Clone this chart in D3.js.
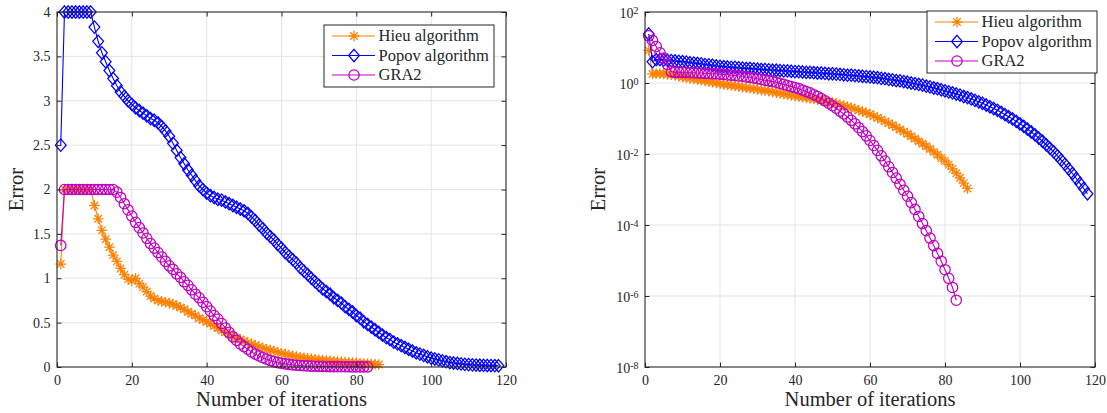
<!DOCTYPE html>
<html>
<head>
<meta charset="utf-8">
<script src="https://cdn.jsdelivr.net/npm/d3@7"></script>
<style>
  body { margin: 0; background: #fff; }
  svg { display: block; font-family: 'Liberation Serif', 'Times New Roman', serif; }
</style>
</head>
<body>
<div id="chart"></div>
<script>
// series info
const seriesNames = ['Hieu algorithm', 'Popov algorithm', 'GRA2'];
const seriesColors = ['#ff8000', '#0000ff', '#bf00bf'];
const seriesMarkers = ['asterisk', 'diamond', 'circle'];

// ticks
const xTicks = [0, 20, 40, 60, 80, 100, 120];
const linearYTicks = [0, 0.5, 1, 1.5, 2, 2.5, 3, 3.5, 4];
const logYExponents = [-8, -6, -4, -2, 0, 2];

// left panel (linear), value of iteration k is at index k-1
const hieuLinear = [1.16, 2, 2, 2, 2, 2, 2, 2, 2,
  1.82, 1.67, 1.54, 1.44, 1.35, 1.26, 1.19, 1.11, 1.04, 0.99,
  0.97, 1.00, 0.94, 0.90, 0.85, 0.80, 0.77, 0.75, 0.74, 0.73,
  0.72, 0.71, 0.69, 0.67, 0.65, 0.62, 0.60, 0.58, 0.55, 0.53,
  0.51, 0.49, 0.46, 0.44, 0.41, 0.39, 0.37, 0.35, 0.33, 0.31,
  0.29, 0.275, 0.26, 0.245, 0.23, 0.215, 0.20, 0.19, 0.18, 0.165,
  0.155, 0.145, 0.135, 0.125, 0.117, 0.11, 0.103, 0.097, 0.091, 0.086,
  0.081, 0.077, 0.073, 0.069, 0.065, 0.061, 0.058, 0.055, 0.052, 0.049,
  0.046, 0.043, 0.040, 0.037, 0.034, 0.031, 0.028];
const popovLinear = [2.5, 4, 4, 4, 4, 4, 4, 4, 4,
  3.83, 3.67, 3.54, 3.44, 3.34, 3.25, 3.17, 3.10, 3.05, 3.00,
  2.96, 2.92, 2.89, 2.86, 2.83, 2.80, 2.78, 2.75, 2.71, 2.66,
  2.60, 2.52, 2.44, 2.36, 2.29, 2.22, 2.16, 2.10, 2.04, 2.00,
  1.96, 1.93, 1.91, 1.89, 1.88, 1.86, 1.84, 1.82, 1.80, 1.78,
  1.76, 1.73, 1.69, 1.65, 1.60, 1.56, 1.51, 1.47, 1.43, 1.38,
  1.34, 1.29, 1.25, 1.21, 1.17, 1.12, 1.08, 1.04, 1.00, 0.96,
  0.92, 0.88, 0.85, 0.82, 0.78, 0.75, 0.72, 0.68, 0.65, 0.62,
  0.58, 0.55, 0.51, 0.48, 0.45, 0.42, 0.39, 0.36, 0.33, 0.31,
  0.28, 0.26, 0.24, 0.22, 0.20, 0.18, 0.16, 0.145, 0.13, 0.115,
  0.10, 0.09, 0.08, 0.07, 0.06, 0.05, 0.045, 0.04, 0.035, 0.03,
  0.027, 0.024, 0.022, 0.02, 0.018, 0.017, 0.016, 0.015, 0.014];
const gra2Linear = [1.37, 2, 2, 2, 2, 2, 2, 2, 2, 2, 2, 2, 2, 2, 2,
  1.97, 1.91, 1.84, 1.77, 1.70, 1.63, 1.57, 1.51, 1.45, 1.39,
  1.34, 1.29, 1.24, 1.19, 1.14, 1.10, 1.05, 1.01, 0.96, 0.92,
  0.87, 0.82, 0.78, 0.73, 0.68, 0.63, 0.58, 0.54, 0.49, 0.44,
  0.39, 0.34, 0.30, 0.26, 0.23, 0.20, 0.17, 0.145, 0.125, 0.105,
  0.088, 0.073, 0.06, 0.05, 0.042, 0.035, 0.029, 0.024, 0.02, 0.017,
  0.014, 0.012, 0.010, 0.0085, 0.0072, 0.0062, 0.0054, 0.0047, 0.0041, 0.0036,
  0.0032, 0.0028, 0.0025, 0.0022, 0.0019, 0.0017, 0.0015, 0.0013];

// right panel (log scale)
const hieuLog = [8.3, 1.8, 1.85, 1.85, 1.8, 1.75, 1.7, 1.65, 1.55, 1.48,
  1.41, 1.35, 1.29, 1.26, 1.20, 1.15, 1.10, 1.05, 1.00, 0.955,
  0.912, 0.891, 0.851, 0.832, 0.794, 0.759, 0.741, 0.708, 0.692, 0.661,
  0.631, 0.617, 0.589, 0.562, 0.537, 0.513, 0.490, 0.468, 0.447, 0.427,
  0.417, 0.398, 0.380, 0.372, 0.355, 0.339, 0.324, 0.309, 0.295, 0.282,
  0.263, 0.245, 0.229, 0.214, 0.200, 0.186, 0.170, 0.158, 0.145, 0.132,
  0.117, 0.105, 0.0933, 0.0832, 0.0741, 0.0646, 0.0562, 0.0490, 0.0427, 0.0372,
  0.0316, 0.0269, 0.0229, 0.0195, 0.0166, 0.0138, 0.0115, 0.00955, 0.00776, 0.00631,
  0.00501, 0.0038, 0.00288, 0.00214, 0.00151, 0.00107];
const popovLog = [24, 3.98, 4.57, 4.57, 4.47, 4.37, 4.27, 4.17, 4.07, 3.98,
  3.89, 3.72, 3.63, 3.55, 3.47, 3.31, 3.24, 3.16, 3.02, 2.95,
  2.88, 2.82, 2.75, 2.75, 2.69, 2.63, 2.57, 2.57, 2.51, 2.45,
  2.40, 2.40, 2.34, 2.29, 2.29, 2.24, 2.19, 2.19, 2.14, 2.09,
  2.09, 2.04, 2.00, 2.00, 1.95, 1.91, 1.91, 1.86, 1.82, 1.82,
  1.78, 1.74, 1.70, 1.66, 1.66, 1.62, 1.58, 1.55, 1.51, 1.48,
  1.45, 1.41, 1.35, 1.32, 1.26, 1.23, 1.17, 1.15, 1.10, 1.05,
  1.00, 0.955, 0.912, 0.871, 0.813, 0.776, 0.724, 0.692, 0.646, 0.603,
  0.562, 0.525, 0.490, 0.457, 0.417, 0.389, 0.355, 0.324, 0.295, 0.269,
  0.240, 0.214, 0.191, 0.170, 0.148, 0.129, 0.112, 0.0977, 0.0832, 0.0708,
  0.0603, 0.0501, 0.0417, 0.0347, 0.0282, 0.0229, 0.0182, 0.0145, 0.0115, 0.00891,
  0.00676, 0.00513, 0.0038, 0.00282, 0.00204, 0.00148, 0.00107, 0.000759];
const gra2Log = [21.4, 15.8, 10.7, 7.08, 5.01, 3.31, 2.09, 2.00, 2.00, 2.00,
  2.00, 1.95, 1.95, 1.91, 1.91, 1.86, 1.86, 1.82, 1.82, 1.78,
  1.74, 1.70, 1.66, 1.62, 1.58, 1.55, 1.48, 1.45, 1.38, 1.32,
  1.26, 1.20, 1.15, 1.10, 1.05, 0.977, 0.912, 0.851, 0.794, 0.741,
  0.692, 0.631, 0.575, 0.525, 0.468, 0.417, 0.363, 0.316, 0.269, 0.229,
  0.195, 0.162, 0.135, 0.110, 0.0891, 0.0708, 0.0550, 0.0427, 0.0324, 0.0240,
  0.0174, 0.0126, 0.00891, 0.00631, 0.00437, 0.00302, 0.00209, 0.00141, 0.000955, 0.000646,
  0.000427, 0.000275, 0.000174, 0.00011, 6.92e-5, 4.27e-5, 2.63e-5, 1.58e-5, 9.55e-6, 5.5e-6,
  3.16e-6, 1.74e-6, 7.6e-7];

// marker shapes centred at 0,0
function markerPath(type) {
  if (type === 'asterisk') {
    const r = 5.3, a = r * 0.707;
    return `M${-r},0L${r},0M0,${-r}L0,${r}M${-a},${-a}L${a},${a}M${-a},${a}L${a},${-a}`;
  }
  if (type === 'diamond') {
    return 'M0,-6.2L5.4,0L0,6.2L-5.4,0Z';
  }
  const r = 5.2;
  return `M${r},0A${r},${r} 0 1,1 ${-r},0A${r},${r} 0 1,1 ${r},0Z`;
}

class ErrorPlot {
  constructor(svg, opts) {
    this.svg = svg;
    this.left = opts.left;
    this.right = opts.right;
    this.top = 12;
    this.bottom = 367;
    this.log = opts.log;
    this.data = opts.data;
    this.legend = opts.legend;
    this.ylabelX = opts.ylabelX;
    this.axisColor = '#262626';
    this.gridColor = '#e3e3e3';
    this.init();
  }
  init() {
    this.x = d3.scaleLinear().domain([0, 120]).range([this.left, this.right]);
    this.y = this.log
      ? d3.scaleLog().domain([1e-8, 1e2]).range([this.bottom, this.top])
      : d3.scaleLinear().domain([0, 4]).range([this.bottom, this.top]);
    this.yTicks = this.log ? logYExponents.map(e => Math.pow(10, e)) : linearYTicks;
    this.g = this.svg.append('g');
    return this;
  }
  render() {
    this.renderGrid();
    this.renderSeries();
    this.renderAxes();
    this.renderLabels();
    this.renderLegend();
    return this;
  }
  renderGrid() {
    const grid = this.g.append('g').attr('stroke', this.gridColor).attr('stroke-width', 1);
    grid.selectAll('line.gx')
      .data(xTicks.slice(1, -1))
      .join('line')
      .attr('x1', d => this.x(d)).attr('x2', d => this.x(d))
      .attr('y1', this.top).attr('y2', this.bottom);
    grid.selectAll('line.gy')
      .data(this.yTicks.slice(1, -1))
      .join('line')
      .attr('class', 'gy')
      .attr('x1', this.left).attr('x2', this.right)
      .attr('y1', d => this.y(d)).attr('y2', d => this.y(d));
  }
  renderSeries() {
    const line = d3.line().x((d, i) => this.x(i + 1)).y(d => this.y(d));
    this.data.forEach((vals, s) => {
      const sg = this.g.append('g');
      sg.append('path')
        .attr('d', line(vals))
        .attr('fill', 'none')
        .attr('stroke', seriesColors[s])
        .attr('stroke-width', 1.1);
      sg.selectAll('path.m')
        .data(vals)
        .join('path')
        .attr('class', 'm')
        .attr('d', markerPath(seriesMarkers[s]))
        .attr('transform', (d, i) => `translate(${this.x(i + 1)},${this.y(d)})`)
        .attr('fill', 'none')
        .attr('stroke', seriesColors[s])
        .attr('stroke-width', 1.25);
    });
  }
  renderAxes() {
    const tick = 4.5;
    const fmt = d3.format('~g');
    this.g.append('g')
      .attr('transform', `translate(0,${this.bottom})`)
      .call(d3.axisBottom(this.x).tickValues(xTicks).tickFormat(fmt)
        .tickSizeInner(-tick).tickSizeOuter(0).tickPadding(8.5));
    const left = this.g.append('g')
      .attr('transform', `translate(${this.left},0)`)
      .call(d3.axisLeft(this.y).tickValues(this.yTicks).tickFormat(fmt)
        .tickSizeInner(-tick).tickSizeOuter(0).tickPadding(6.5));
    this.g.append('g')
      .attr('transform', `translate(0,${this.top})`)
      .call(d3.axisTop(this.x).tickValues(xTicks).tickSizeInner(-tick).tickSizeOuter(0).tickFormat(''));
    this.g.append('g')
      .attr('transform', `translate(${this.right},0)`)
      .call(d3.axisRight(this.y).tickValues(this.yTicks).tickSizeInner(-tick).tickSizeOuter(0).tickFormat(''));

    this.g.selectAll('.domain').remove();
    this.g.selectAll('.tick line').attr('stroke', this.axisColor);
    this.g.selectAll('.tick text')
      .attr('fill', this.axisColor)
      .attr('font-family', "'Liberation Serif', serif")
      .attr('font-size', 14);

    if (this.log) {
      // 10 with a raised exponent
      left.selectAll('.tick text')
        .text(null)
        .attr('dy', '0.4em')
        .each(function (d) {
          const t = d3.select(this);
          t.append('tspan').text('10');
          t.append('tspan')
            .attr('dy', '-0.45em')
            .attr('font-size', 10)
            .text(Math.round(Math.log10(d)));
        });
    }

    // box
    this.g.append('rect')
      .attr('x', this.left).attr('y', this.top)
      .attr('width', this.right - this.left).attr('height', this.bottom - this.top)
      .attr('fill', 'none')
      .attr('stroke', this.axisColor)
      .attr('stroke-width', 1.1);
  }
  renderLabels() {
    this.g.append('text')
      .attr('x', (this.left + this.right) / 2)
      .attr('y', 406)
      .attr('text-anchor', 'middle')
      .attr('font-size', 20.5)
      .attr('fill', this.axisColor)
      .text('Number of iterations');
    this.g.append('text')
      .attr('transform', `translate(${this.ylabelX},${(this.top + this.bottom) / 2}) rotate(-90)`)
      .attr('text-anchor', 'middle')
      .attr('font-size', 20.5)
      .attr('fill', this.axisColor)
      .text('Error');
  }
  renderLegend() {
    const lg = this.g.append('g').attr('transform', `translate(${this.legend.x},${this.legend.y})`);
    lg.append('rect')
      .attr('width', 170).attr('height', 62)
      .attr('fill', '#fff')
      .attr('stroke', this.axisColor)
      .attr('stroke-width', 1);
    const rows = [11, 30.5, 50];
    seriesNames.forEach((name, s) => {
      const row = lg.append('g').attr('transform', `translate(0,${rows[s]})`);
      row.append('line')
        .attr('x1', 8).attr('x2', 51)
        .attr('stroke', seriesColors[s]).attr('stroke-width', 1.2);
      row.append('path')
        .attr('d', markerPath(seriesMarkers[s]))
        .attr('transform', 'translate(30,0)')
        .attr('fill', 'none')
        .attr('stroke', seriesColors[s])
        .attr('stroke-width', 1.25);
      row.append('text')
        .attr('x', 54.5).attr('y', 5)
        .attr('font-size', 16.5)
        .attr('fill', this.axisColor)
        .text(name);
    });
  }
}

const svg = d3.select('#chart').append('svg')
  .attr('width', 1107)
  .attr('height', 413)
  .style('background-color', '#fff');

new ErrorPlot(svg, {
  left: 57, right: 506, log: false, ylabelX: 23,
  data: [hieuLinear, popovLinear, gra2Linear],
  legend: { x: 324, y: 25 }
}).render();

new ErrorPlot(svg, {
  left: 645, right: 1095, log: true, ylabelX: 605,
  data: [hieuLog, popovLog, gra2Log],
  legend: { x: 927, y: 11 }
}).render();
</script>
</body>
</html>
